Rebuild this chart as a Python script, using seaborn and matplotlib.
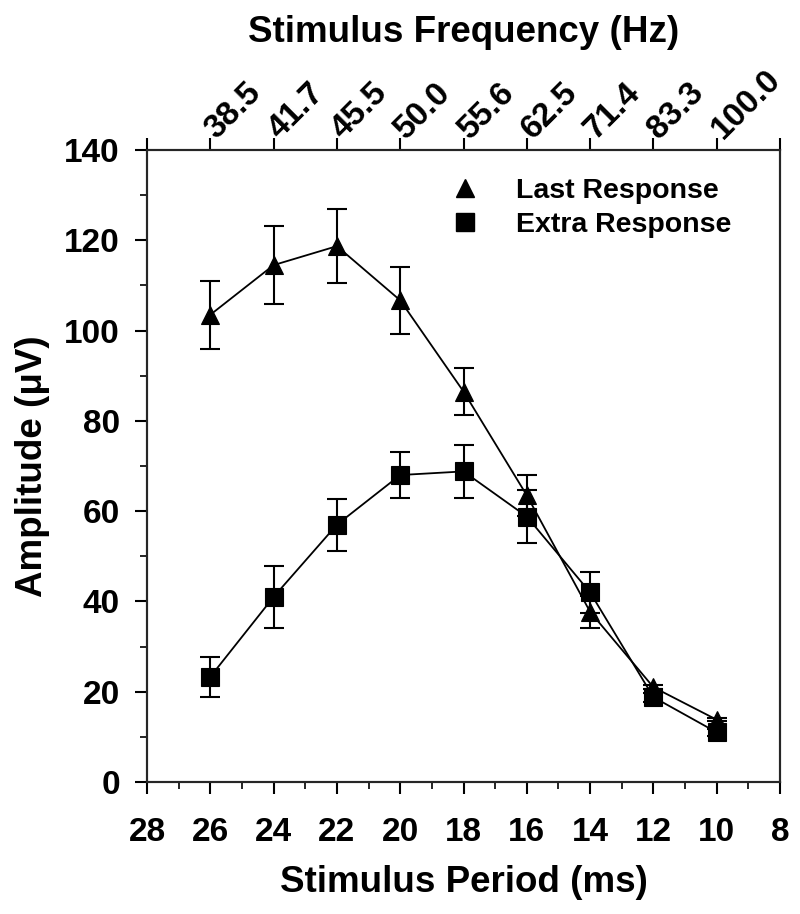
import matplotlib
matplotlib.use("Agg")
import matplotlib.pyplot as plt
from matplotlib.ticker import MultipleLocator, FixedLocator
from matplotlib.lines import Line2D
import seaborn as sns
import pandas as pd

# ---- data ----
period_ms = [26, 24, 22, 20, 18, 16, 14, 12, 10]
last_response = [103.5, 114.5, 118.7, 106.7, 86.5, 63.5, 37.7, 21.0, 13.8]
last_err = [7.5, 8.7, 8.2, 7.4, 5.2, 4.5, 3.6, 0.4, 0.3]
extra_response = [23.3, 41.0, 57.0, 68.0, 68.8, 58.8, 42.0, 18.8, 11.0]
extra_err = [4.5, 6.8, 5.8, 5.1, 5.8, 5.8, 4.5, 1.0, 0.8]
series_names = ["Last Response", "Extra Response"]
top_tick_positions = [28, 26, 24, 22, 20, 18, 16, 14, 12, 10, 8]
top_tick_labels = ["", "38.5", "41.7", "45.5", "50.0", "55.6", "62.5", "71.4", "83.3", "100.0", ""]

sns.set_theme(style="ticks")
plt.rcParams["font.family"] = ["Liberation Sans", "DejaVu Sans"]
plt.rcParams["font.weight"] = "bold"
plt.rcParams["text.color"] = "black"
plt.rcParams["axes.labelcolor"] = "black"

df = pd.DataFrame({
    "period": period_ms * 2,
    "amp": last_response + extra_response,
    "err": last_err + extra_err,
    "series": [series_names[0]] * len(period_ms) + [series_names[1]] * len(period_ms),
})

fig = plt.figure(figsize=(8, 9.14), dpi=100)
ax = fig.add_axes([0.18375, 0.1444, 0.79125, 0.6915])

markers = {series_names[0]: "^", series_names[1]: "s"}
msize = {series_names[0]: 13.5, series_names[1]: 12.5}

for name in series_names:
    sub = df[df["series"] == name]
    ax.errorbar(sub["period"], sub["amp"], yerr=sub["err"], fmt="none",
                ecolor="black", elinewidth=1.5, capsize=7, capthick=1.5, zorder=2)
    sns.lineplot(data=sub, x="period", y="amp", ax=ax, color="black",
                 linewidth=1.3, marker=markers[name], markersize=msize[name],
                 markeredgecolor="black", markerfacecolor="black",
                 markeredgewidth=0.8, legend=False, zorder=3, sort=False)

ax.set_xlim(28, 8)
ax.set_ylim(0, 140)
ax.xaxis.set_major_locator(MultipleLocator(2))
ax.xaxis.set_minor_locator(MultipleLocator(1))
ax.yaxis.set_major_locator(MultipleLocator(20))
ax.yaxis.set_minor_locator(MultipleLocator(10))

for sp in ax.spines.values():
    sp.set_linewidth(1.5)
    sp.set_color("black")
    sp.set_visible(True)

ax.tick_params(which="major", direction="out", length=8.5, width=1.5,
               labelsize=24, color="black", labelcolor="black")
ax.tick_params(axis="y", which="major", pad=11)
ax.tick_params(axis="x", which="major", pad=17)
ax.tick_params(which="minor", direction="out", length=5, width=1.2, color="black")
ax.tick_params(axis="x", which="both", top=False)
ax.tick_params(axis="y", which="both", right=False)
for lab in ax.get_xticklabels() + ax.get_yticklabels():
    lab.set_fontweight("bold")

ax.set_xlabel("Stimulus Period (ms)", fontsize=26.5, fontweight="bold",
              labelpad=12, color="black")
ax.set_ylabel("Amplitude (\u03bcV)", fontsize=26.5, fontweight="bold",
              labelpad=10, color="black")

# top axis: frequency
axt = ax.twiny()
axt.set_xlim(ax.get_xlim())
axt.xaxis.set_major_locator(FixedLocator(top_tick_positions))
axt.set_xticklabels(top_tick_labels)
axt.tick_params(axis="x", which="major", direction="out", length=8.5, width=1.5,
                labelsize=24, pad=3, color="black", labelcolor="black")
for lab in axt.get_xticklabels():
    lab.set_rotation(45)
    lab.set_rotation_mode("anchor")
    lab.set_ha("left")
    lab.set_va("center")
    lab.set_fontweight("bold")
for sp in axt.spines.values():
    sp.set_linewidth(1.5)
axt.set_xlabel("Stimulus Frequency (Hz)", fontsize=26.5, fontweight="bold",
               labelpad=16, color="black")

handles = [Line2D([], [], linestyle="none", marker=markers[n], markersize=msize[n],
                  color="black") for n in series_names]
leg = ax.legend(handles, series_names, loc="upper left", bbox_to_anchor=(0.435, 0.997),
                frameon=False, prop={"size": 20.5, "weight": "bold"},
                handletextpad=1.2, labelspacing=0.3, handlelength=1.2)

fig.savefig("out.png", dpi=100)
